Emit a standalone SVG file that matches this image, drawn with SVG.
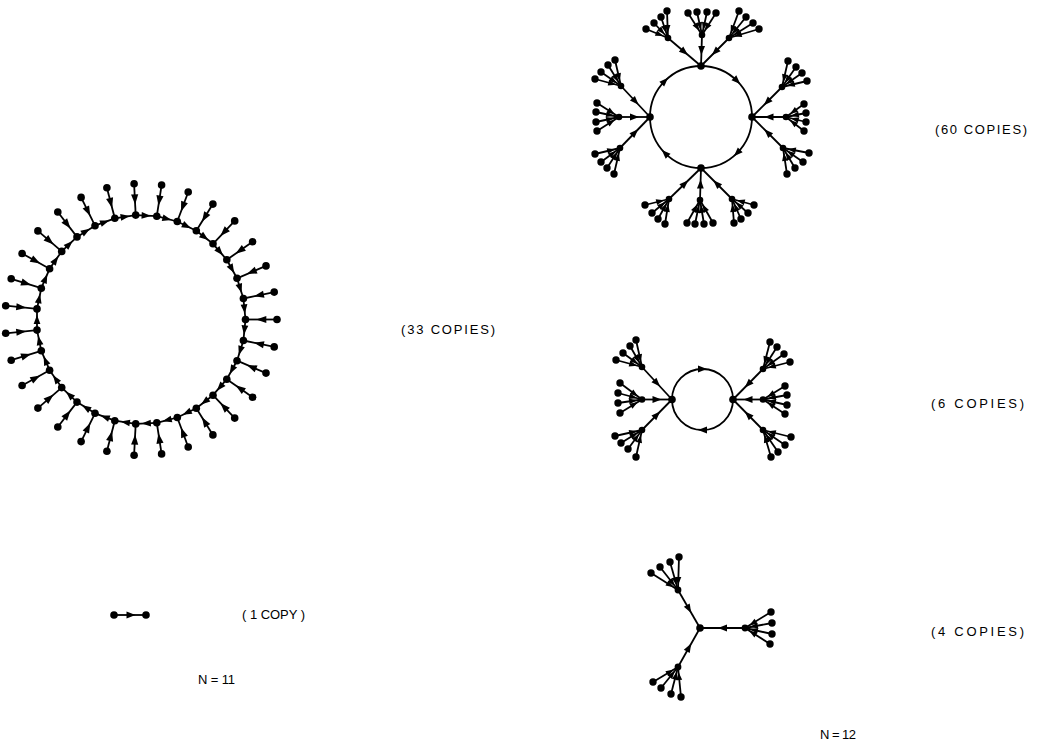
<svg xmlns="http://www.w3.org/2000/svg" width="1048" height="745" viewBox="0 0 1048 745">
<style>
.e path{fill:none;stroke:#000;stroke-width:1.8}
.e .rc{marker-end:url(#ac)}
.e .rl{marker-end:url(#al)}
.e .fl{marker-end:url(#af)}
.e .br{marker-mid:url(#am)}
.e .cy{marker-mid:url(#am)}
circle{fill:#000}
text{font-family:"Liberation Sans",Arial,sans-serif;font-size:13px;fill:#000}
</style>
<defs>
<marker id="ac" markerUnits="userSpaceOnUse" markerWidth="1" markerHeight="1" orient="auto" style="overflow:visible"><path d="M-6,0 L-15.2,-3.4 L-15.2,3.4 Z" fill="#000"/></marker>
<marker id="al" markerUnits="userSpaceOnUse" markerWidth="1" markerHeight="1" orient="auto" style="overflow:visible"><path d="M-10.7,0 L-20.8,-3.6 L-20.8,3.6 Z" fill="#000"/></marker>
<marker id="af" markerUnits="userSpaceOnUse" markerWidth="1" markerHeight="1" orient="auto" style="overflow:visible"><path d="M-5,0 L-13,-2.9 L-13,2.9 Z" fill="#000"/></marker>
<marker id="am" markerUnits="userSpaceOnUse" markerWidth="1" markerHeight="1" orient="auto" style="overflow:visible"><path d="M4.5,0 L-4.5,-3.4 L-4.5,3.4 Z" fill="#000"/></marker>
</defs>

<g id="connectors" class="e">
<path class="rc" d="M245.5 319.5L243.4 340.5"/>
<path class="rc" d="M243.4 298.5L245.5 319.5"/>
<path class="rc" d="M237 278.3L243.4 298.5"/>
<path class="rc" d="M226.8 259.8L237 278.3"/>
<path class="rc" d="M213 243.8L226.8 259.8"/>
<path class="rc" d="M196.3 230.8L213 243.8"/>
<path class="rc" d="M177.3 221.5L196.3 230.8"/>
<path class="rc" d="M156.8 216.2L177.3 221.5"/>
<path class="rc" d="M135.7 215.1L156.8 216.2"/>
<path class="rc" d="M114.8 218.3L135.7 215.1"/>
<path class="rc" d="M95 225.7L114.8 218.3"/>
<path class="rc" d="M77 236.9L95 225.7"/>
<path class="rc" d="M61.7 251.4L77 236.9"/>
<path class="rc" d="M49.6 268.8L61.7 251.4"/>
<path class="rc" d="M41.3 288.2L49.6 268.8"/>
<path class="rc" d="M37 308.9L41.3 288.2"/>
<path class="rc" d="M37 330.1L37 308.9"/>
<path class="rc" d="M41.3 350.8L37 330.1"/>
<path class="rc" d="M49.6 370.2L41.3 350.8"/>
<path class="rc" d="M61.7 387.6L49.6 370.2"/>
<path class="rc" d="M77 402.1L61.7 387.6"/>
<path class="rc" d="M95 413.3L77 402.1"/>
<path class="rc" d="M114.8 420.7L95 413.3"/>
<path class="rc" d="M135.7 423.9L114.8 420.7"/>
<path class="rc" d="M156.8 422.8L135.7 423.9"/>
<path class="rc" d="M177.3 417.5L156.8 422.8"/>
<path class="rc" d="M196.3 408.2L177.3 417.5"/>
<path class="rc" d="M213 395.2L196.3 408.2"/>
<path class="rc" d="M226.8 379.2L213 395.2"/>
<path class="rc" d="M237 360.7L226.8 379.2"/>
<path class="rc" d="M243.4 340.5L237 360.7"/>
<path class="rl" d="M277 319.5L245.5 319.5"/>
<path class="rl" d="M274.2 292.1L243.4 298.5"/>
<path class="rl" d="M266 265.9L237 278.3"/>
<path class="rl" d="M252.6 241.8L226.8 259.8"/>
<path class="rl" d="M234.7 220.9L213 243.8"/>
<path class="rl" d="M212.9 204.1L196.3 230.8"/>
<path class="rl" d="M188.2 192L177.3 221.5"/>
<path class="rl" d="M161.6 185.1L156.8 216.2"/>
<path class="rl" d="M134.1 183.7L135.7 215.1"/>
<path class="rl" d="M106.9 187.8L114.8 218.3"/>
<path class="rl" d="M81.1 197.4L95 225.7"/>
<path class="rl" d="M57.8 212L77 236.9"/>
<path class="rl" d="M37.9 230.9L61.7 251.4"/>
<path class="rl" d="M22.1 253.5L49.6 268.8"/>
<path class="rl" d="M11.2 278.8L41.3 288.2"/>
<path class="rl" d="M5.7 305.7L37 308.9"/>
<path class="rl" d="M5.7 333.3L37 330.1"/>
<path class="rl" d="M11.2 360.2L41.3 350.8"/>
<path class="rl" d="M22.1 385.5L49.6 370.2"/>
<path class="rl" d="M37.9 408.1L61.7 387.6"/>
<path class="rl" d="M57.8 427L77 402.1"/>
<path class="rl" d="M81.1 441.6L95 413.3"/>
<path class="rl" d="M106.9 451.2L114.8 420.7"/>
<path class="rl" d="M134.1 455.3L135.7 423.9"/>
<path class="rl" d="M161.6 453.9L156.8 422.8"/>
<path class="rl" d="M188.2 447L177.3 417.5"/>
<path class="rl" d="M212.9 434.9L196.3 408.2"/>
<path class="rl" d="M234.7 418.1L213 395.2"/>
<path class="rl" d="M252.6 397.2L226.8 379.2"/>
<path class="rl" d="M266 373.1L237 360.7"/>
<path class="rl" d="M274.2 346.9L243.4 340.5"/>
<path class="br" d="M114 615L131 615L146 615"/>

<path class="cy" d="M650 117A51 51 0 0 1 664.94 80.94A51 51 0 0 1 701 66"/>
<path class="cy" d="M701 66A51 51 0 0 1 737.06 80.94A51 51 0 0 1 752 117"/>
<path class="cy" d="M752 117A51 51 0 0 1 737.06 153.06A51 51 0 0 1 701 168"/>
<path class="cy" d="M701 168A51 51 0 0 1 664.94 153.06A51 51 0 0 1 650 117"/>
<path class="br" d="M668 38L684.5 52L701 66"/>
<path class="br" d="M702 35L701.5 50.5L701 66"/>
<path class="br" d="M729 38L715 52L701 66"/>
<path class="br" d="M621 86L635.5 101.5L650 117"/>
<path class="br" d="M619 117L634.5 117L650 117"/>
<path class="br" d="M620 148L635 132.5L650 117"/>
<path class="br" d="M782 87L767 102L752 117"/>
<path class="br" d="M786 117L769 117L752 117"/>
<path class="br" d="M783 148L767.5 132.5L752 117"/>
<path class="br" d="M669 199L685 183.5L701 168"/>
<path class="br" d="M700 200L700.5 184L701 168"/>
<path class="br" d="M732 199L716.5 183.5L701 168"/>
<path class="fl" d="M646 29L668 38"/><path class="fl" d="M654 23L668 38"/><path class="fl" d="M661 17L668 38"/><path class="fl" d="M667 11L668 38"/>
<path class="fl" d="M688 13L702 35"/><path class="fl" d="M697 12L702 35"/><path class="fl" d="M707 12L702 35"/><path class="fl" d="M716 13L702 35"/>
<path class="fl" d="M739 11L729 38"/><path class="fl" d="M746 17L729 38"/><path class="fl" d="M753 23L729 38"/><path class="fl" d="M759 29L729 38"/>
<path class="fl" d="M595 79L621 86"/><path class="fl" d="M601 72L621 86"/><path class="fl" d="M608 65L621 86"/><path class="fl" d="M615 60L621 86"/>
<path class="fl" d="M597 103L619 117"/><path class="fl" d="M596 112L619 117"/><path class="fl" d="M596 122L619 117"/><path class="fl" d="M597 131L619 117"/>
<path class="fl" d="M595 154L620 148"/><path class="fl" d="M601 162L620 148"/><path class="fl" d="M607 168L620 148"/><path class="fl" d="M614 174L620 148"/>
<path class="fl" d="M788 61L782 87"/><path class="fl" d="M796 67L782 87"/><path class="fl" d="M802 73L782 87"/><path class="fl" d="M807 81L782 87"/>
<path class="fl" d="M804 104L786 117"/><path class="fl" d="M806 113L786 117"/><path class="fl" d="M806 122L786 117"/><path class="fl" d="M804 131L786 117"/>
<path class="fl" d="M809 153L783 148"/><path class="fl" d="M803 162L783 148"/><path class="fl" d="M795 168L783 148"/><path class="fl" d="M787 174L783 148"/>
<path class="fl" d="M645 205L669 199"/><path class="fl" d="M652 213L669 199"/><path class="fl" d="M658 219L669 199"/><path class="fl" d="M665 224L669 199"/>
<path class="fl" d="M687 223L700 200"/><path class="fl" d="M695 224L700 200"/><path class="fl" d="M704 224L700 200"/><path class="fl" d="M713 223L700 200"/>
<path class="fl" d="M734 223L732 199"/><path class="fl" d="M741 219L732 199"/><path class="fl" d="M748 213L732 199"/><path class="fl" d="M754 205L732 199"/>

<path class="cy" d="M672 399.5A30.5 30.5 0 0 1 702.5 369A30.5 30.5 0 0 1 733 399.5"/>
<path class="cy" d="M733 399.5A30.5 30.5 0 0 1 702.5 430A30.5 30.5 0 0 1 672 399.5"/>
<path class="br" d="M642 367L657 383.25L672 399.5"/>
<path class="br" d="M642 399.5L657 399.5L672 399.5"/>
<path class="br" d="M642 430L657 414.75L672 399.5"/>
<path class="br" d="M763 369L748 384.25L733 399.5"/>
<path class="br" d="M763 399.5L748 399.5L733 399.5"/>
<path class="br" d="M763 430L748 414.75L733 399.5"/>
<path class="fl" d="M616 360L642 367"/><path class="fl" d="M623 353L642 367"/><path class="fl" d="M630 346L642 367"/><path class="fl" d="M636 340L642 367"/>
<path class="fl" d="M620 383L642 399.5"/><path class="fl" d="M618 393L642 399.5"/><path class="fl" d="M618 403L642 399.5"/><path class="fl" d="M620 413L642 399.5"/>
<path class="fl" d="M615 436L642 430"/><path class="fl" d="M621 443L642 430"/><path class="fl" d="M628 449L642 430"/><path class="fl" d="M636 457L642 430"/>
<path class="fl" d="M770 342L763 369"/><path class="fl" d="M777 347L763 369"/><path class="fl" d="M784 354L763 369"/><path class="fl" d="M790 362L763 369"/>
<path class="fl" d="M785 386L763 399.5"/><path class="fl" d="M787 395L763 399.5"/><path class="fl" d="M787 405L763 399.5"/><path class="fl" d="M785 414L763 399.5"/>
<path class="fl" d="M791 437L763 430"/><path class="fl" d="M785 445L763 430"/><path class="fl" d="M778 452L763 430"/><path class="fl" d="M771 457L763 430"/>

<path class="br" d="M678 590L689 609L700 628"/>
<path class="br" d="M745 628L722.5 628L700 628"/>
<path class="br" d="M678 667L689 647.5L700 628"/>
<path class="fl" d="M651 573L678 590"/><path class="fl" d="M660 567L678 590"/><path class="fl" d="M670 562L678 590"/><path class="fl" d="M679 557L678 590"/>
<path class="fl" d="M771 612L745 628"/><path class="fl" d="M772 623L745 628"/><path class="fl" d="M772 634L745 628"/><path class="fl" d="M770 644L745 628"/>
<path class="fl" d="M653 682L678 667"/><path class="fl" d="M661 688L678 667"/><path class="fl" d="M671 694L678 667"/><path class="fl" d="M681 697L678 667"/>
</g>

<g id="graph-n11-cycle31">
<g id="a-r0"><circle cx="245.5" cy="319.5" r="3.8"/></g>
<g id="a-r1"><circle cx="243.4" cy="298.5" r="3.8"/></g>
<g id="a-r2"><circle cx="237" cy="278.3" r="3.8"/></g>
<g id="a-r3"><circle cx="226.8" cy="259.8" r="3.8"/></g>
<g id="a-r4"><circle cx="213" cy="243.8" r="3.8"/></g>
<g id="a-r5"><circle cx="196.3" cy="230.8" r="3.8"/></g>
<g id="a-r6"><circle cx="177.3" cy="221.5" r="3.8"/></g>
<g id="a-r7"><circle cx="156.8" cy="216.2" r="3.8"/></g>
<g id="a-r8"><circle cx="135.7" cy="215.1" r="3.8"/></g>
<g id="a-r9"><circle cx="114.8" cy="218.3" r="3.8"/></g>
<g id="a-r10"><circle cx="95" cy="225.7" r="3.8"/></g>
<g id="a-r11"><circle cx="77" cy="236.9" r="3.8"/></g>
<g id="a-r12"><circle cx="61.7" cy="251.4" r="3.8"/></g>
<g id="a-r13"><circle cx="49.6" cy="268.8" r="3.8"/></g>
<g id="a-r14"><circle cx="41.3" cy="288.2" r="3.8"/></g>
<g id="a-r15"><circle cx="37" cy="308.9" r="3.8"/></g>
<g id="a-r16"><circle cx="37" cy="330.1" r="3.8"/></g>
<g id="a-r17"><circle cx="41.3" cy="350.8" r="3.8"/></g>
<g id="a-r18"><circle cx="49.6" cy="370.2" r="3.8"/></g>
<g id="a-r19"><circle cx="61.7" cy="387.6" r="3.8"/></g>
<g id="a-r20"><circle cx="77" cy="402.1" r="3.8"/></g>
<g id="a-r21"><circle cx="95" cy="413.3" r="3.8"/></g>
<g id="a-r22"><circle cx="114.8" cy="420.7" r="3.8"/></g>
<g id="a-r23"><circle cx="135.7" cy="423.9" r="3.8"/></g>
<g id="a-r24"><circle cx="156.8" cy="422.8" r="3.8"/></g>
<g id="a-r25"><circle cx="177.3" cy="417.5" r="3.8"/></g>
<g id="a-r26"><circle cx="196.3" cy="408.2" r="3.8"/></g>
<g id="a-r27"><circle cx="213" cy="395.2" r="3.8"/></g>
<g id="a-r28"><circle cx="226.8" cy="379.2" r="3.8"/></g>
<g id="a-r29"><circle cx="237" cy="360.7" r="3.8"/></g>
<g id="a-r30"><circle cx="243.4" cy="340.5" r="3.8"/></g>
<g id="a-l0"><circle cx="277" cy="319.5" r="3.8"/></g>
<g id="a-l1"><circle cx="274.2" cy="292.1" r="3.8"/></g>
<g id="a-l2"><circle cx="266" cy="265.9" r="3.8"/></g>
<g id="a-l3"><circle cx="252.6" cy="241.8" r="3.8"/></g>
<g id="a-l4"><circle cx="234.7" cy="220.9" r="3.8"/></g>
<g id="a-l5"><circle cx="212.9" cy="204.1" r="3.8"/></g>
<g id="a-l6"><circle cx="188.2" cy="192" r="3.8"/></g>
<g id="a-l7"><circle cx="161.6" cy="185.1" r="3.8"/></g>
<g id="a-l8"><circle cx="134.1" cy="183.7" r="3.8"/></g>
<g id="a-l9"><circle cx="106.9" cy="187.8" r="3.8"/></g>
<g id="a-l10"><circle cx="81.1" cy="197.4" r="3.8"/></g>
<g id="a-l11"><circle cx="57.8" cy="212" r="3.8"/></g>
<g id="a-l12"><circle cx="37.9" cy="230.9" r="3.8"/></g>
<g id="a-l13"><circle cx="22.1" cy="253.5" r="3.8"/></g>
<g id="a-l14"><circle cx="11.2" cy="278.8" r="3.8"/></g>
<g id="a-l15"><circle cx="5.7" cy="305.7" r="3.8"/></g>
<g id="a-l16"><circle cx="5.7" cy="333.3" r="3.8"/></g>
<g id="a-l17"><circle cx="11.2" cy="360.2" r="3.8"/></g>
<g id="a-l18"><circle cx="22.1" cy="385.5" r="3.8"/></g>
<g id="a-l19"><circle cx="37.9" cy="408.1" r="3.8"/></g>
<g id="a-l20"><circle cx="57.8" cy="427" r="3.8"/></g>
<g id="a-l21"><circle cx="81.1" cy="441.6" r="3.8"/></g>
<g id="a-l22"><circle cx="106.9" cy="451.2" r="3.8"/></g>
<g id="a-l23"><circle cx="134.1" cy="455.3" r="3.8"/></g>
<g id="a-l24"><circle cx="161.6" cy="453.9" r="3.8"/></g>
<g id="a-l25"><circle cx="188.2" cy="447" r="3.8"/></g>
<g id="a-l26"><circle cx="212.9" cy="434.9" r="3.8"/></g>
<g id="a-l27"><circle cx="234.7" cy="418.1" r="3.8"/></g>
<g id="a-l28"><circle cx="252.6" cy="397.2" r="3.8"/></g>
<g id="a-l29"><circle cx="266" cy="373.1" r="3.8"/></g>
<g id="a-l30"><circle cx="274.2" cy="346.9" r="3.8"/></g>
</g>

<g id="graph-n11-pair">
<g id="b-0"><circle cx="114" cy="615" r="3.8"/></g>
<g id="b-1"><circle cx="146" cy="615" r="3.8"/></g>
</g>

<g id="graph-n12-cycle4">
<g id="c-T"><circle cx="701" cy="66" r="3.8"/></g>
<g id="c-R"><circle cx="752" cy="117" r="3.8"/></g>
<g id="c-B"><circle cx="701" cy="168" r="3.8"/></g>
<g id="c-L"><circle cx="650" cy="117" r="3.8"/></g>
<g id="c-iTL"><circle cx="668" cy="38" r="3.3"/></g>
<g id="c-iTM"><circle cx="702" cy="35" r="3.3"/></g>
<g id="c-iTR"><circle cx="729" cy="38" r="3.3"/></g>
<g id="c-iLU"><circle cx="621" cy="86" r="3.3"/></g>
<g id="c-iLM"><circle cx="619" cy="117" r="3.3"/></g>
<g id="c-iLD"><circle cx="620" cy="148" r="3.3"/></g>
<g id="c-iRU"><circle cx="782" cy="87" r="3.3"/></g>
<g id="c-iRM"><circle cx="786" cy="117" r="3.3"/></g>
<g id="c-iRD"><circle cx="783" cy="148" r="3.3"/></g>
<g id="c-iBL"><circle cx="669" cy="199" r="3.3"/></g>
<g id="c-iBM"><circle cx="700" cy="200" r="3.3"/></g>
<g id="c-iBR"><circle cx="732" cy="199" r="3.3"/></g>
<g id="c-TL1"><circle cx="646" cy="29" r="3.7"/></g><g id="c-TL2"><circle cx="654" cy="23" r="3.7"/></g><g id="c-TL3"><circle cx="661" cy="17" r="3.7"/></g><g id="c-TL4"><circle cx="667" cy="11" r="3.7"/></g>
<g id="c-TM1"><circle cx="688" cy="13" r="3.7"/></g><g id="c-TM2"><circle cx="697" cy="12" r="3.7"/></g><g id="c-TM3"><circle cx="707" cy="12" r="3.7"/></g><g id="c-TM4"><circle cx="716" cy="13" r="3.7"/></g>
<g id="c-TR1"><circle cx="739" cy="11" r="3.7"/></g><g id="c-TR2"><circle cx="746" cy="17" r="3.7"/></g><g id="c-TR3"><circle cx="753" cy="23" r="3.7"/></g><g id="c-TR4"><circle cx="759" cy="29" r="3.7"/></g>
<g id="c-LU1"><circle cx="595" cy="79" r="3.7"/></g><g id="c-LU2"><circle cx="601" cy="72" r="3.7"/></g><g id="c-LU3"><circle cx="608" cy="65" r="3.7"/></g><g id="c-LU4"><circle cx="615" cy="60" r="3.7"/></g>
<g id="c-LM1"><circle cx="597" cy="103" r="3.7"/></g><g id="c-LM2"><circle cx="596" cy="112" r="3.7"/></g><g id="c-LM3"><circle cx="596" cy="122" r="3.7"/></g><g id="c-LM4"><circle cx="597" cy="131" r="3.7"/></g>
<g id="c-LD1"><circle cx="595" cy="154" r="3.7"/></g><g id="c-LD2"><circle cx="601" cy="162" r="3.7"/></g><g id="c-LD3"><circle cx="607" cy="168" r="3.7"/></g><g id="c-LD4"><circle cx="614" cy="174" r="3.7"/></g>
<g id="c-RU1"><circle cx="788" cy="61" r="3.7"/></g><g id="c-RU2"><circle cx="796" cy="67" r="3.7"/></g><g id="c-RU3"><circle cx="802" cy="73" r="3.7"/></g><g id="c-RU4"><circle cx="807" cy="81" r="3.7"/></g>
<g id="c-RM1"><circle cx="804" cy="104" r="3.7"/></g><g id="c-RM2"><circle cx="806" cy="113" r="3.7"/></g><g id="c-RM3"><circle cx="806" cy="122" r="3.7"/></g><g id="c-RM4"><circle cx="804" cy="131" r="3.7"/></g>
<g id="c-RD1"><circle cx="809" cy="153" r="3.7"/></g><g id="c-RD2"><circle cx="803" cy="162" r="3.7"/></g><g id="c-RD3"><circle cx="795" cy="168" r="3.7"/></g><g id="c-RD4"><circle cx="787" cy="174" r="3.7"/></g>
<g id="c-BL1"><circle cx="645" cy="205" r="3.7"/></g><g id="c-BL2"><circle cx="652" cy="213" r="3.7"/></g><g id="c-BL3"><circle cx="658" cy="219" r="3.7"/></g><g id="c-BL4"><circle cx="665" cy="224" r="3.7"/></g>
<g id="c-BM1"><circle cx="687" cy="223" r="3.7"/></g><g id="c-BM2"><circle cx="695" cy="224" r="3.7"/></g><g id="c-BM3"><circle cx="704" cy="224" r="3.7"/></g><g id="c-BM4"><circle cx="713" cy="223" r="3.7"/></g>
<g id="c-BR1"><circle cx="734" cy="223" r="3.7"/></g><g id="c-BR2"><circle cx="741" cy="219" r="3.7"/></g><g id="c-BR3"><circle cx="748" cy="213" r="3.7"/></g><g id="c-BR4"><circle cx="754" cy="205" r="3.7"/></g>
</g>

<g id="graph-n12-cycle2">
<g id="d-L"><circle cx="672" cy="399.5" r="3.8"/></g>
<g id="d-R"><circle cx="733" cy="399.5" r="3.8"/></g>
<g id="d-iLU"><circle cx="642" cy="367" r="3.3"/></g>
<g id="d-iLM"><circle cx="642" cy="399.5" r="3.3"/></g>
<g id="d-iLD"><circle cx="642" cy="430" r="3.3"/></g>
<g id="d-iRU"><circle cx="763" cy="369" r="3.3"/></g>
<g id="d-iRM"><circle cx="763" cy="399.5" r="3.3"/></g>
<g id="d-iRD"><circle cx="763" cy="430" r="3.3"/></g>
<g id="d-LU1"><circle cx="616" cy="360" r="3.7"/></g><g id="d-LU2"><circle cx="623" cy="353" r="3.7"/></g><g id="d-LU3"><circle cx="630" cy="346" r="3.7"/></g><g id="d-LU4"><circle cx="636" cy="340" r="3.7"/></g>
<g id="d-LM1"><circle cx="620" cy="383" r="3.7"/></g><g id="d-LM2"><circle cx="618" cy="393" r="3.7"/></g><g id="d-LM3"><circle cx="618" cy="403" r="3.7"/></g><g id="d-LM4"><circle cx="620" cy="413" r="3.7"/></g>
<g id="d-LD1"><circle cx="615" cy="436" r="3.7"/></g><g id="d-LD2"><circle cx="621" cy="443" r="3.7"/></g><g id="d-LD3"><circle cx="628" cy="449" r="3.7"/></g><g id="d-LD4"><circle cx="636" cy="457" r="3.7"/></g>
<g id="d-RU1"><circle cx="770" cy="342" r="3.7"/></g><g id="d-RU2"><circle cx="777" cy="347" r="3.7"/></g><g id="d-RU3"><circle cx="784" cy="354" r="3.7"/></g><g id="d-RU4"><circle cx="790" cy="362" r="3.7"/></g>
<g id="d-RM1"><circle cx="785" cy="386" r="3.7"/></g><g id="d-RM2"><circle cx="787" cy="395" r="3.7"/></g><g id="d-RM3"><circle cx="787" cy="405" r="3.7"/></g><g id="d-RM4"><circle cx="785" cy="414" r="3.7"/></g>
<g id="d-RD1"><circle cx="791" cy="437" r="3.7"/></g><g id="d-RD2"><circle cx="785" cy="445" r="3.7"/></g><g id="d-RD3"><circle cx="778" cy="452" r="3.7"/></g><g id="d-RD4"><circle cx="771" cy="457" r="3.7"/></g>
</g>

<g id="graph-n12-fixed">
<g id="e-C"><circle cx="700" cy="628" r="3.8"/></g>
<g id="e-iTL"><circle cx="678" cy="590" r="3.4"/></g>
<g id="e-iR"><circle cx="745" cy="628" r="3.4"/></g>
<g id="e-iBL"><circle cx="678" cy="667" r="3.4"/></g>
<g id="e-TL1"><circle cx="651" cy="573" r="3.7"/></g><g id="e-TL2"><circle cx="660" cy="567" r="3.7"/></g><g id="e-TL3"><circle cx="670" cy="562" r="3.7"/></g><g id="e-TL4"><circle cx="679" cy="557" r="3.7"/></g>
<g id="e-R1"><circle cx="771" cy="612" r="3.7"/></g><g id="e-R2"><circle cx="772" cy="623" r="3.7"/></g><g id="e-R3"><circle cx="772" cy="634" r="3.7"/></g><g id="e-R4"><circle cx="770" cy="644" r="3.7"/></g>
<g id="e-BL1"><circle cx="653" cy="682" r="3.7"/></g><g id="e-BL2"><circle cx="661" cy="688" r="3.7"/></g><g id="e-BL3"><circle cx="671" cy="694" r="3.7"/></g><g id="e-BL4"><circle cx="681" cy="697" r="3.7"/></g>
</g>

<g id="labels">
<text x="401" y="334" textLength="94" lengthAdjust="spacing">(33 COPIES)</text>
<text x="242" y="619" textLength="63" lengthAdjust="spacing">( 1 COPY )</text>
<text x="198" y="684" font-size="12" textLength="37" lengthAdjust="spacing">N = 11</text>
<text x="935" y="134" textLength="92" lengthAdjust="spacing">(60 COPIES)</text>
<text x="931" y="408" textLength="93" lengthAdjust="spacing">(6 COPIES)</text>
<text x="931" y="636" textLength="93" lengthAdjust="spacing">(4 COPIES)</text>
<text x="820" y="739" font-size="12" textLength="36" lengthAdjust="spacing">N = 12</text>
</g>
</svg>
